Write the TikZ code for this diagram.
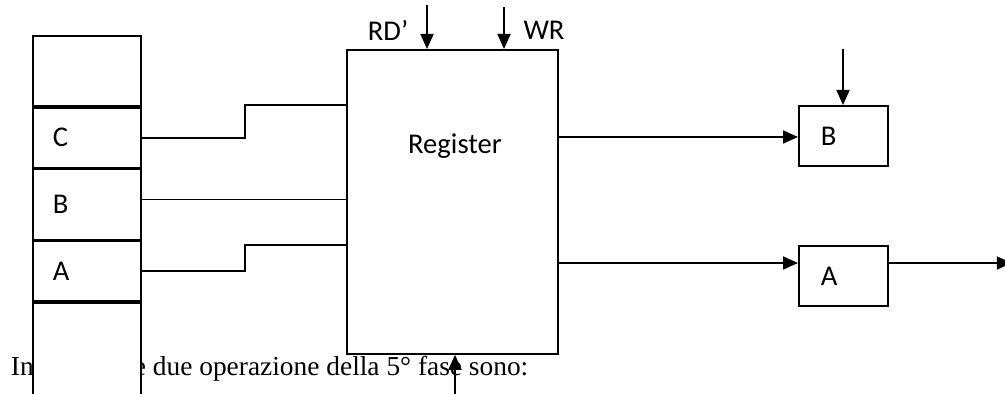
\documentclass[tikz,border=0pt]{standalone}
\usepackage{fontspec}
\setmainfont{Liberation Serif}
\newfontfamily\calib{Carlito}
\usepackage{tikz}
\usetikzlibrary{arrows.meta,positioning}

\begin{document}
\begin{tikzpicture}[
    x=0.5pt, y=-0.5pt,
    line width=0.9pt,
    cell/.style={draw, fill=white, minimum width=54pt, text width=34pt, inner xsep=10pt,
                 align=left, font=\calib\fontsize{14.3}{17}\selectfont},
    regbox/.style={draw, minimum width=105.5pt, minimum height=152pt},
    latch/.style={draw, minimum height=30pt, text width=22.5pt, inner xsep=11pt,
                  align=left, font=\calib\fontsize{14.3}{17}\selectfont},
    lbl/.style={font=\calib\fontsize{14.3}{17}\selectfont},
    arr/.style={-{Triangle[length=7.5pt,width=6.5pt]}}
]
\clip (0,0) rectangle (1005,394);

% testo sotto il disegno
\node[anchor=base west, inner sep=0pt, font=\fontsize{13.7}{17}\selectfont] (txtL) at (10,376) {In};
\node[anchor=base west, inner sep=0pt, font=\fontsize{13.7}{17}\selectfont] (txtR) at (133,376) {e due operazione della 5° fase sono:};

% banco di registri
\node[cell, minimum height=35pt, anchor=north west] (c0) at (32,35) {};
\node[cell, minimum height=30pt, below=0pt of c0] (cC) {C};
\node[cell, minimum height=35pt, below=0pt of cC] (cB) {B};
\node[cell, minimum height=30pt, below=0pt of cB] (cA) {A};
\node[cell, minimum height=60pt, below=0pt of cA] (c4) {};

% register
\node[regbox, anchor=north west] (reg) at (346,49) {};
\node[lbl] (regname) at (455,146) {Register};

\coordinate (inC) at (346,105);
\coordinate (inB) at (346,199.5);
\coordinate (inA) at (346,245);
\draw (cC.east) -- ++(103,0) |- (inC);
\draw (cB.east |- inB) -- (inB);
\draw (cA.east) -- ++(103,0) |- (inA);

% segnali di controllo
\coordinate (rd) at (427,5);
\coordinate (wr) at (504,7);
\coordinate (bot) at (455,400);
\draw[arr] (rd) -- (rd |- reg.north);
\draw[arr] (wr) -- (wr |- reg.north);
\draw[arr] (bot) -- (bot |- reg.south);
\node[lbl] (rdlbl) at (388,30) {RD’};
\node[lbl] (wrlbl) at (544,30) {WR};

% registri B e A
\node[latch, anchor=north west] (rB) at (798,105) {B};
\node[latch, anchor=north west] (rA) at (798,245) {A};
\coordinate (enB) at (843,49);
\draw[arr] (enB) -- (enB |- rB.north);

\coordinate (outB) at (557,137);
\coordinate (outA) at (557,263);
\draw[arr] (outB) -- (outB -| rB.west);
\draw[arr] (outA) -- (outA -| rA.west);
\draw[arr] (outA -| rA.east) -- ++(123,0);

\end{tikzpicture}
\end{document}
